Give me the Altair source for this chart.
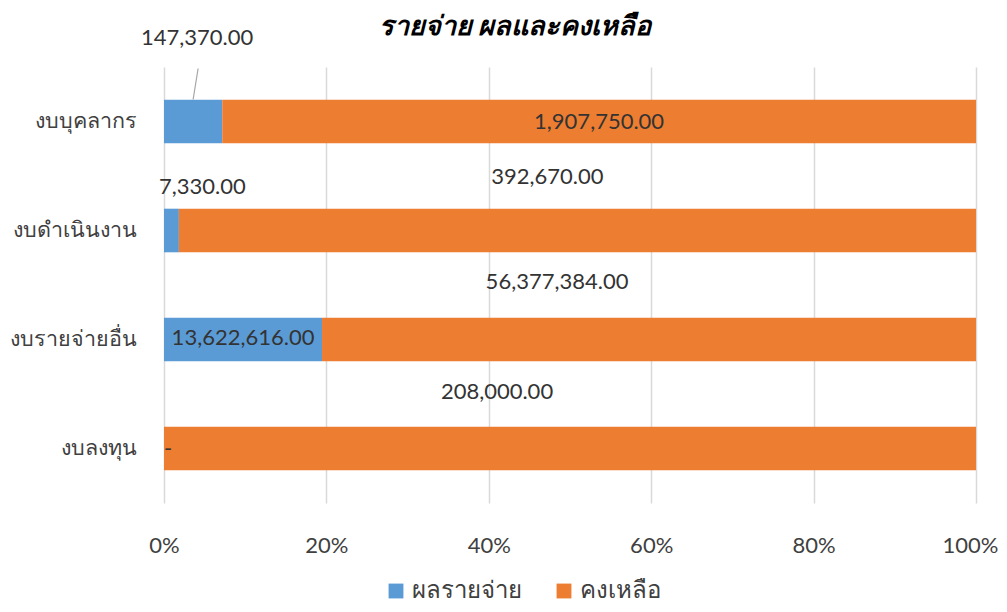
import altair as alt
import pandas as pd

categories = ["งบบุคลากร", "งบดำเนินงาน", "งบรายจ่ายอื่น", "งบลงทุน"]
series_names = ["ผลรายจ่าย", "คงเหลือ"]
spent = [147370, 7330, 13622616, 0]
remaining = [1907750, 392670, 56377384, 208000]
title_text = "รายจ่าย ผลและคงเหลือ"

BLUE = "#5B9BD5"
ORANGE = "#ED7D31"
FONT = "Lato"

rows = []
for i, c in enumerate(categories):
    for k, (s, v) in enumerate(zip(series_names, [spent[i], remaining[i]])):
        rows.append({"cat": c, "series": s, "value": v, "order": k,
                     "label": "-" if v == 0 else f"{v:,.2f}"})
df = pd.DataFrame(rows)

# label placement tweaks (pixels, relative to segment midpoint / band centre)
label_offsets = {
    (0, 0): (4, -84), (0, 1): (0, 0),
    (1, 0): (31, -44), (1, 1): (-30, -54),
    (2, 0): (0, -2), (2, 1): (-92, -58),
    (3, 0): (4, 0), (3, 1): (-73, -57),
}

ysc = alt.Scale(domain=categories, paddingInner=0.6, paddingOuter=0.3)
yenc = alt.Y("cat:N", sort=categories, scale=ysc, title=None,
             axis=alt.Axis(labelFontSize=21.5, labelColor="#404040", labelPadding=28,
                           labelFont=FONT, domain=False, ticks=False, grid=False))

base = alt.Chart(df)

bars = base.mark_bar().encode(
    x=alt.X("value:Q", stack="normalize", title=None,
            scale=alt.Scale(domain=[0, 1], nice=False),
            axis=alt.Axis(format=".0%", values=[0, 0.2, 0.4, 0.6, 0.8, 1.0],
                          labelFontSize=22, labelColor="#404040", labelFont=FONT,
                          labelPadding=32, labelFlush=False,
                          labelOffset=alt.ExprRef("datum.value == 1 ? -6 : 0"),
                          domain=False, ticks=False,
                          grid=True, gridColor="#d9d9d9", gridWidth=1.5)),
    y=yenc,
    color=alt.Color("series:N", sort=series_names,
                    scale=alt.Scale(domain=series_names, range=[BLUE, ORANGE]),
                    legend=alt.Legend(title=None, orient="none", direction="horizontal",
                                      legendX=220, legendY=512, symbolType="square",
                                      symbolSize=220, labelFontSize=24, labelFont=FONT,
                                      labelColor="#404040", columnPadding=30,
                                      symbolStrokeWidth=0)),
    order=alt.Order("order:Q"),
)

stacked = base.transform_stack(
    stack="value", groupby=["cat"], as_=["v0", "v1"], offset="normalize",
    sort=[alt.SortField("order")]
).transform_calculate(mid="(datum.v0 + datum.v1) / 2")

layers = [bars]
for (ci, si), (dx, dy) in label_offsets.items():
    layers.append(
        stacked.transform_filter(
            (alt.datum.cat == categories[ci]) & (alt.datum.series == series_names[si])
        ).mark_text(fontSize=22, font=FONT, color="#333333", dx=dx, dy=dy).encode(
            x=alt.X("mid:Q"), y=yenc, text="label:N")
    )

leader = stacked.transform_filter(
    (alt.datum.cat == categories[0]) & (alt.datum.series == series_names[0])
).mark_rule(color="#a6a6a6", strokeWidth=1.2, xOffset=5, x2Offset=0,
            yOffset=-53, y2Offset=-22).encode(
    x="mid:Q", x2="mid:Q", y=yenc, y2="cat:N")
layers.append(leader)

chart = alt.layer(*layers).properties(
    width=812, height=436,
    title=alt.TitleParams(title_text, fontSize=27, fontWeight="bold", fontStyle="italic",
                          font=FONT, color="#000000", anchor="middle", dx=-55, offset=-14),
    autosize=alt.AutoSizeParams(type="none"),
    padding={"left": 156, "top": 59, "right": 23, "bottom": 101},
).configure_view(stroke=None)

chart.save("out.html", embed_options={"renderer": "svg", "actions": False})
